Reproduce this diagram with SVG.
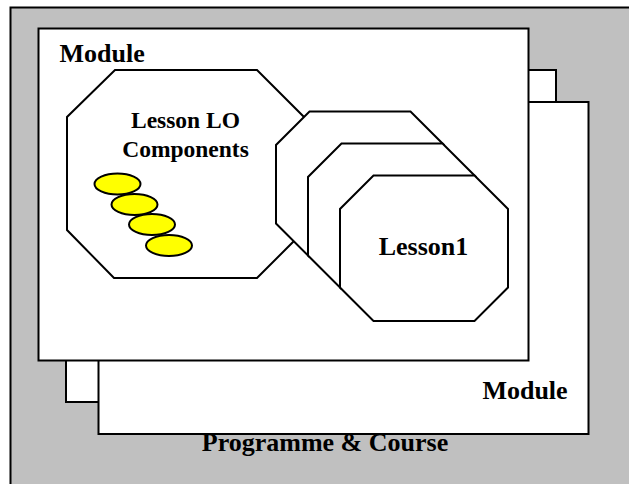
<svg xmlns="http://www.w3.org/2000/svg" width="629" height="484" viewBox="0 0 629 484">
<style>
.box{fill:#fff;stroke:#000;stroke-width:2}
.oct{fill:#fff;stroke:#000;stroke-width:2;stroke-linejoin:miter}
.lo{fill:#ffff00;stroke:#000;stroke-width:2}
.t{font-family:"Liberation Serif","Times New Roman",serif;font-weight:bold;fill:#000}
</style>
<rect width="629" height="484" fill="#fff"/>
<g id="programme">
<rect x="10.5" y="7.5" width="640" height="500" fill="#c0c0c0" stroke="#000" stroke-width="2"/>
<text class="t" x="325" y="451" font-size="26" text-anchor="middle">Programme &amp; Course</text>
</g>
<g id="module-back2">
<rect class="box" x="66" y="70" width="490" height="332"/>
</g>
<g id="module-back">
<rect class="box" x="98.5" y="102" width="490" height="332"/>
<text class="t" x="525" y="399" font-size="26" text-anchor="middle">Module</text>
</g>
<g id="module">
<rect class="box" x="38.5" y="28.5" width="490" height="332"/>
<text class="t" x="59.5" y="62" font-size="26">Module</text>
</g>
<g id="lesson-lo">
<polygon class="oct" points="115,70 257,70 305,118 305,230 257,278 114,278 67,230 67,117"/>
<text class="t" x="185.5" y="128" font-size="23.5" text-anchor="middle">Lesson LO</text>
<text class="t" x="185.5" y="157" font-size="23.5" text-anchor="middle">Components</text>
</g>
<g id="lo-components">
<ellipse class="lo" cx="117.5" cy="184" rx="23" ry="10.5"/>
<ellipse class="lo" cx="134.5" cy="204.5" rx="23" ry="10.5"/>
<ellipse class="lo" cx="152" cy="224.5" rx="23" ry="10.5"/>
<ellipse class="lo" cx="169" cy="245.5" rx="23" ry="10.5"/>
</g>
<g id="lesson3">
<polygon class="oct" points="309.5,111.5 410.5,111.5 444,145 444,223.5 410.5,257 309.5,257 276,223.5 276,145"/>
</g>
<g id="lesson2">
<polygon class="oct" points="341.5,143.5 442.5,143.5 476,177 476,255.5 442.5,289 341.5,289 308,255.5 308,177"/>
</g>
<g id="lesson1">
<polygon class="oct" points="373.5,175.5 474.5,175.5 508,209 508,287.5 474.5,321 373.5,321 340,287.5 340,209"/>
<text class="t" x="423.5" y="255" font-size="26" text-anchor="middle">Lesson1</text>
</g>
</svg>
